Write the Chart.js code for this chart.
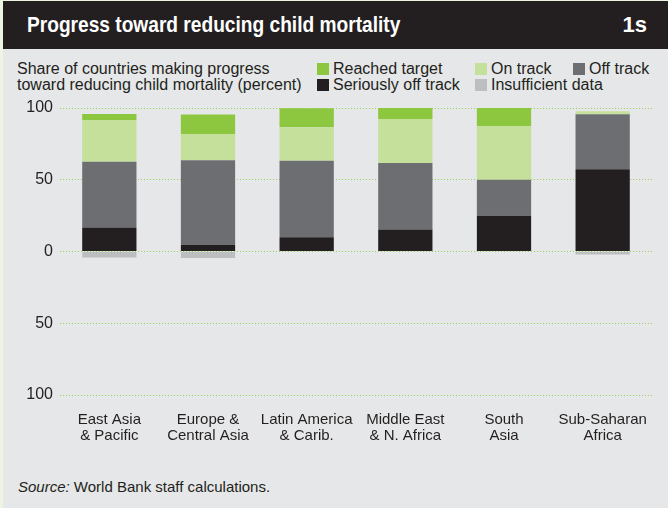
<!DOCTYPE html>
<html>
<head>
<meta charset="utf-8">
<script src="https://cdn.jsdelivr.net/npm/chart.js@4"></script>
<style>
  html, body { margin: 0; padding: 0; }
  body { width: 668px; height: 508px; background: #edf5e1; position: relative; overflow: hidden;
         font-family: "Liberation Sans", Arial, sans-serif; color: #231f20; }
  #card { position: absolute; left: 3px; top: 1px; width: 665px; height: 507px; background: #e6e7e8; }
  #header { position: absolute; left: 3px; top: 1px; width: 665px; height: 48px; background: #231f20; color: #fff;
            font-weight: bold; }
  #header .t { position: absolute; left: 24px; top: 11px; font-size: 22px; line-height: 26px;
               transform: scaleX(0.87); transform-origin: 0 0; white-space: nowrap; }
  #header .n { position: absolute; right: 21px; top: 11px; font-size: 22px; line-height: 26px; }
  #ytitle { position: absolute; left: 17px; top: 61px; font-size: 16px; line-height: 16px; }
  #legend { position: absolute; left: 317px; top: 61px; font-size: 16px; line-height: 16px; }
  .li { position: absolute; white-space: nowrap; }
  .li span.sw { display: inline-block; width: 12px; height: 12px; margin-right: 4px; vertical-align: -1px; }
  #source { position: absolute; left: 18px; top: 479px; font-size: 15px; line-height: 16px; }
  canvas { position: absolute; left: 0; top: 0; }
</style>
</head>
<body>
<div id="card"></div>
<div id="header"><div class="t">Progress toward reducing child mortality</div><div class="n">1s</div></div>
<div id="ytitle">Share of countries making progress<br>toward reducing child mortality (percent)</div>
<div id="legend"></div>
<div id="source"><i>Source:</i> World Bank staff calculations.</div>
<canvas id="chart" width="668" height="508"></canvas>
<script>
// regions and shares of countries (percent)
var regions = [["East Asia", "& Pacific"], ["Europe &", "Central Asia"], ["Latin America", "& Carib."],
               ["Middle East", "& N. Africa"], ["South", "Asia"], ["Sub-Saharan", "Africa"]];
var seriouslyOff = [16.7, 4.5, 10.0, 15.4, 25.0, 57.4];
var offTrack = [45.8, 59.1, 53.3, 46.2, 25.0, 38.3];
var onTrack = [29.2, 18.2, 23.3, 30.8, 37.5, 2.1];
var reached = [4.2, 13.6, 13.3, 7.7, 12.5, 0];
var insufficient = [4.2, 4.5, 0, 0, 0, 2.1]; // drawn below zero
var yTicks = [-100, -50, 0, 50, 100];

var datasets = [
  { label: "Seriously off track", data: seriouslyOff, backgroundColor: "#231f20" },
  { label: "Off track", data: offTrack, backgroundColor: "#6d6e71" },
  { label: "On track", data: onTrack, backgroundColor: "#c5e09b" },
  { label: "Reached target", data: reached, backgroundColor: "#8dc63f" },
  { label: "Insufficient data", data: insufficient.map(function (v) { return -v; }), backgroundColor: "#bcbec0" }
];

// html legend, laid out like the original
var legendPos = {
  "Reached target": [0, 0], "On track": [158, 0], "Off track": [256, 0],
  "Seriously off track": [0, 16], "Insufficient data": [158, 16]
};
var legend = document.getElementById("legend");
datasets.forEach(function (ds) {
  var p = legendPos[ds.label];
  var el = document.createElement("div");
  el.className = "li";
  el.style.left = p[0] + "px";
  el.style.top = p[1] + "px";
  el.innerHTML = '<span class="sw" style="background:' + ds.backgroundColor + '"></span>' + ds.label;
  legend.appendChild(el);
});

var fam = '"Liberation Sans", Arial, sans-serif';
var ctx = document.getElementById("chart").getContext("2d");
var chart = new Chart(ctx, {
  type: "bar",
  data: { labels: regions, datasets: datasets },
  options: {
    responsive: false,
    animation: false,
    layout: { padding: { top: 108, right: 16, left: 0, bottom: 0 } },
    datasets: { bar: { categoryPercentage: 1, barPercentage: 0.55 } },
    plugins: { legend: { display: false }, tooltip: { enabled: false } },
    scales: {
      x: {
        stacked: true,
        grid: { display: false },
        border: { display: false },
        ticks: { color: "#231f20", font: { family: fam, size: 15, lineHeight: 1.04 }, padding: 9,
                 maxRotation: 0, autoSkip: false },
        afterFit: function (s) { s.height = 113; }
      },
      y: {
        stacked: true,
        min: -100, max: 100,
        afterBuildTicks: function (s) { s.ticks = yTicks.map(function (v) { return { value: v }; }); },
        ticks: { color: "#231f20", font: { family: fam, size: 16 }, padding: 7,
                 callback: function (v) { return Math.abs(v); } },
        grid: { color: "#9ccc5a", lineWidth: 1, drawTicks: false },
        border: { display: false, dash: [1, 2] },
        afterFit: function (s) { s.width = 60; }
      }
    }
  }
});
</script>
</body>
</html>
